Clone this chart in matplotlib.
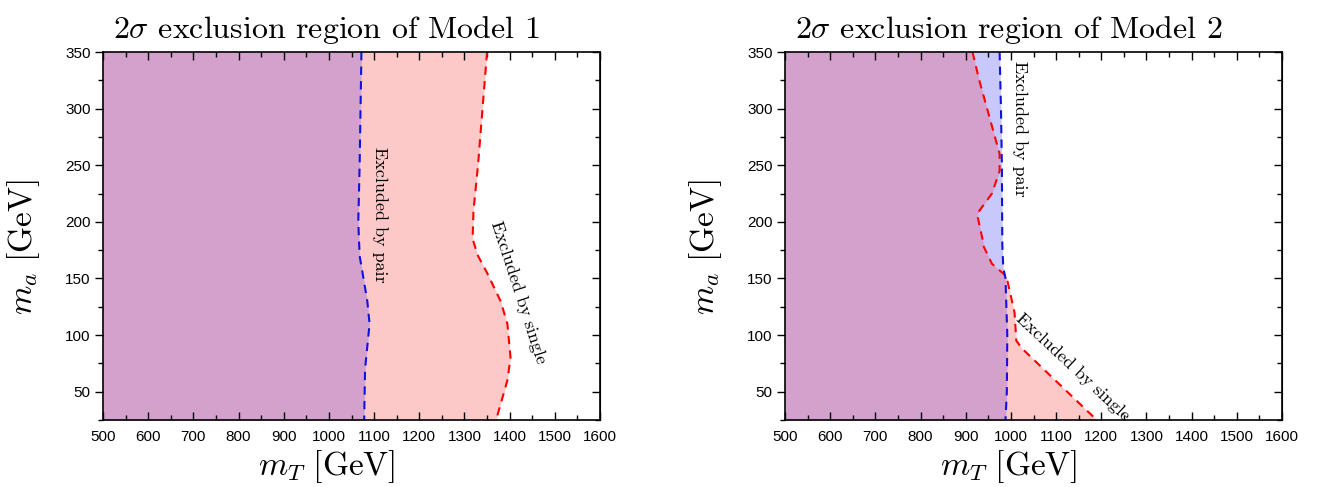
import numpy as np
import matplotlib
matplotlib.use("Agg")
import matplotlib.pyplot as plt
from matplotlib.ticker import MultipleLocator

plt.rcParams['mathtext.fontset'] = 'cm'
plt.rcParams['font.family'] = ['Liberation Sans', 'DejaVu Sans']

# ---- data: boundaries given as m_T (x) at m_a (y) ----
m1_pair_ma = [350, 300, 250, 200, 170, 130, 110, 70, 25]
m1_pair_mt = [1072, 1070, 1068, 1065, 1068, 1085, 1090, 1080, 1078]
m1_single_ma = [350, 300, 250, 210, 185, 170, 155, 130, 110, 80, 60, 25]
m1_single_mt = [1350, 1340, 1330, 1320, 1318, 1330, 1350, 1380, 1395, 1402, 1395, 1370]

m2_pair_ma = [350, 300, 250, 180, 160, 150, 100, 50, 25]
m2_pair_mt = [975, 978, 980, 981, 983, 988, 992, 991, 988]
m2_single_ma = [350, 325, 260, 245, 225, 207, 185, 178, 163, 152, 120, 95, 88, 25]
m2_single_mt = [915, 930, 975, 975, 958, 925, 937, 940, 958, 990, 1008, 1012, 1025, 1190]

titles = [r"$2\sigma$ exclusion region of Model 1", r"$2\sigma$ exclusion region of Model 2"]
label_pair = "Excluded by pair"
label_single = "Excluded by single"

PINK = (252/255, 200/255, 200/255)
LAV = (200/255, 200/255, 252/255)
PURP = (212/255, 161/255, 204/255)
XMIN, XMAX, YMIN, YMAX = 500, 1600, 25, 350

W, H = 1322, 487
fig = plt.figure(figsize=(W/100, H/100), dpi=100)
ax1 = fig.add_axes([103/W, 1-420/H, (600-103)/W, (420-52)/H])
ax2 = fig.add_axes([785/W, 1-420/H, (1282-785)/W, (420-52)/H])

def draw(ax, pma, pmt, sma, smt, title, texts):
    yy = np.linspace(YMIN, YMAX, 600)
    px = np.interp(yy, pma[::-1], pmt[::-1])
    sx = np.interp(yy, sma[::-1], smt[::-1])
    ax.fill_betweenx(yy, XMIN, sx, color=PINK, lw=0)
    ax.fill_betweenx(yy, XMIN, px, color=LAV, lw=0)
    ax.fill_betweenx(yy, XMIN, np.minimum(px, sx), color=PURP, lw=0)
    ax.plot(smt, sma, color='#ff0000', ls=(0, (4, 3)), lw=1.5)
    ax.plot(pmt, pma, color='#1010e0', ls=(0, (4, 3)), lw=1.5)
    ax.set_xlim(XMIN, XMAX)
    ax.set_ylim(YMIN, YMAX)
    ax.xaxis.set_major_locator(MultipleLocator(100))
    ax.xaxis.set_minor_locator(MultipleLocator(50))
    ax.yaxis.set_major_locator(MultipleLocator(50))
    ax.yaxis.set_minor_locator(MultipleLocator(25))
    ax.tick_params(axis='x', which='both', direction='in', top=True, labelsize=11, pad=7)
    ax.tick_params(axis='y', which='both', direction='out', labelsize=11, pad=3)
    ax.tick_params(which='major', length=6, width=1)
    ax.tick_params(which='minor', length=3.5, width=1)
    ax.yaxis.set_tick_params(which='both', right=False)
    axr = ax.secondary_yaxis('right')
    axr.yaxis.set_major_locator(MultipleLocator(50))
    axr.yaxis.set_minor_locator(MultipleLocator(25))
    axr.tick_params(which='both', direction='in', labelright=False)
    axr.tick_params(which='major', length=6, width=1)
    axr.tick_params(which='minor', length=3.5, width=1)
    for s in ax.spines.values():
        s.set_linewidth(1.2)
    ax.set_title(title, fontsize=23, pad=10, family='cmr10', x=0.45)
    ax.set_xlabel(r"$m_T\ [\mathrm{GeV}]$", fontsize=24, labelpad=0)
    ax.xaxis.set_label_coords(0.45, -0.075, transform=ax.transAxes)
    ax.xaxis.label.set_va('top')
    ax.set_ylabel(r"$m_a\ [\mathrm{GeV}]$", fontsize=24)
    ax.yaxis.set_label_coords(-0.122, 0.47, transform=ax.transAxes)
    for (x, y, s, rot) in texts:
        ax.text(x, y, s, rotation=rot, ha='center', va='center', fontsize=13,
                family='cmr10', rotation_mode='anchor')

draw(ax1, m1_pair_ma, m1_pair_mt, m1_single_ma, m1_single_mt, titles[0],
     [(1112, 206, label_pair, -90), (1420, 138, label_single, -72)])
draw(ax2, m2_pair_ma, m2_pair_mt, m2_single_ma, m2_single_mt, titles[1],
     [(1020, 282, label_pair, -90), (1137, 72, label_single, -43)])

fig.savefig("out.png", dpi=100)
